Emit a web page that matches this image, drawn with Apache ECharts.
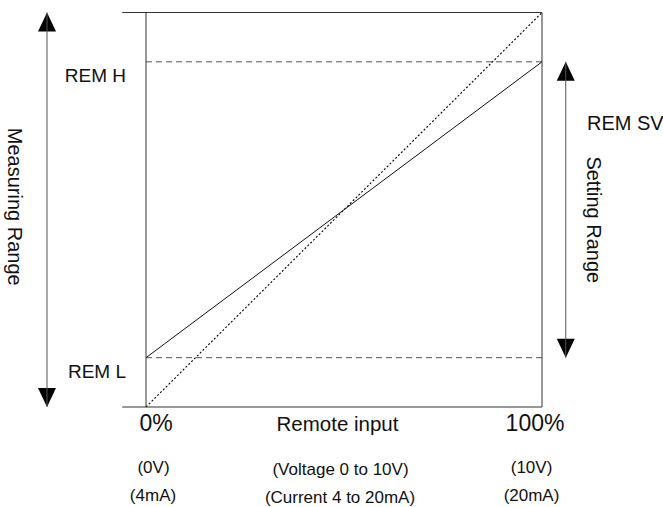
<!DOCTYPE html>
<html>
<head>
<meta charset="utf-8">
<script src="https://cdn.jsdelivr.net/npm/echarts@6/dist/echarts.min.js"></script>
<style>
    html, body { margin: 0; padding: 0; background: #fff; }
    #chart { width: 663px; height: 507px; }
</style>
</head>
<body>
<div id="chart"></div>
<script>
// remote input (%) on x, measuring range (%) on y
const inputTicks = [0, 100];
const inputTickLabels = ['0%', '100%'];
const voltageLabels = ['(0V)', '(10V)'];
const currentLabels = ['(4mA)', '(20mA)'];
const inputName = 'Remote input';
const voltageName = '(Voltage 0 to 10V)';
const currentName = '(Current 4 to 20mA)';

const measuringRange = [0, 100];
const remLevels = [12.5, 87.5];
const remLabels = ['REM L', 'REM H'];

// remote SV follows REM L..REM H, the dotted line is the full range
const remoteSv = [12.5, 87.5];
const fullScale = [0, 100];

// layout only
const FONT = 'Liberation Sans, Arial, sans-serif';
const W = 663;
const boxLeftPx = 146, boxRightPx = 542;
const pxPerUnit = (boxRightPx - boxLeftPx) / (inputTicks[1] - inputTicks[0]);
const xMin = inputTicks[0] - boxLeftPx / pxPerUnit;
const xMax = inputTicks[1] + (W - boxRightPx) / pxPerUnit;
const frameLeft = -6;
const measuringArrowX = -25;
const settingArrowX = 106;
const remSvLabelAt = 72;

const chart = echarts.init(document.getElementById('chart'), null, { renderer: 'svg' });

// label with a sideways nudge: first label to the right, last to the left
function shifted(list, firstDx, lastDx, size) {
    return {
        formatter: function (v) {
            const i = inputTicks.indexOf(v);
            return i === 0 ? '{f|' + list[0] + '}' : '{l|' + list[1] + '}';
        },
        rich: {
            f: { fontSize: size, fontFamily: FONT, color: '#111', padding: [0, 0, 0, firstDx * 2] },
            l: { fontSize: size, fontFamily: FONT, color: '#111', padding: [0, lastDx * 2, 0, 0] }
        }
    };
}

function xAxisRow(list, name, size, nameSize, gap, firstDx, lastDx, nameDx) {
    const lab = shifted(list, firstDx, lastDx, size);
    return {
        type: 'value',
        min: xMin,
        max: xMax,
        position: 'bottom',
        axisLine: { show: false },
        axisTick: { show: false },
        splitLine: { show: false },
        axisLabel: {
            customValues: inputTicks,
            margin: gap,
            fontSize: size,
            fontFamily: FONT,
            color: '#111',
            formatter: lab.formatter,
            rich: lab.rich
        },
        name: name,
        nameLocation: 'middle',
        nameGap: gap + 2,
        nameMoveOverlap: false,
        nameTextStyle: {
            fontSize: nameSize,
            fontFamily: FONT,
            color: '#111',
            padding: [0, 0, 0, nameDx * 2]
        }
    };
}

const seg = (a, b) => [a, b];

const option = {
    animation: false,
    grid: { left: 0, right: 0, top: 12.5, bottom: 100, outerBoundsMode: 'none' },
    xAxis: [
        xAxisRow(inputTickLabels, inputName, 23, 20.5, 4, 10, 7, 6),
        xAxisRow(voltageLabels, voltageName, 17, 17, 52, 7.5, 10.5, 9),
        xAxisRow(currentLabels, currentName, 17, 17, 80, 7, 10.5, 8.5)
    ],
    yAxis: [
        {
            type: 'value',
            min: measuringRange[0],
            max: measuringRange[1],
            offset: -boxLeftPx,
            axisLine: { show: false },
            axisTick: { show: false },
            splitLine: { show: false },
            axisLabel: {
                customValues: remLevels,
                formatter: v => remLabels[remLevels.indexOf(v)],
                margin: 20,
                fontSize: 19,
                fontFamily: FONT,
                color: '#111',
                verticalAlign: 'top',
                padding: [4, 0, 0, 0]
            },
            name: 'Measuring Range',
            nameLocation: 'middle',
            nameRotate: -90,
            nameGap: 121,
            nameMoveOverlap: false,
            nameTextStyle: { fontSize: 20, fontFamily: FONT, color: '#111', padding: [0, 6, 0, 0] }
        },
        {
            type: 'value',
            position: 'right',
            min: measuringRange[0],
            max: measuringRange[1],
            offset: -(W - boxRightPx),
            axisLine: { show: false },
            axisTick: { show: false },
            splitLine: { show: false },
            axisLabel: {
                customValues: [remSvLabelAt],
                formatter: () => 'REM SV',
                margin: 45,
                fontSize: 20,
                fontFamily: FONT,
                color: '#111'
            },
            name: 'Setting Range',
            nameLocation: 'middle',
            nameRotate: -90,
            nameGap: 42,
            nameMoveOverlap: false,
            nameTextStyle: { fontSize: 20, fontFamily: FONT, color: '#111', padding: [0, 0, 0, 20] }
        }
    ],
    series: [
        {
            // REM L / REM H levels
            type: 'line', silent: true, symbol: 'none',
            data: seg([fullScale[0], remLevels[0]], [fullScale[1], remLevels[0]]),
            lineStyle: { color: '#555', width: 1, type: [6, 4] }
        },
        {
            type: 'line', silent: true, symbol: 'none',
            data: seg([fullScale[0], remLevels[1]], [fullScale[1], remLevels[1]]),
            lineStyle: { color: '#555', width: 1, type: [6, 4] }
        },
        {
            // full range reference
            type: 'line', silent: true, symbol: 'none',
            data: seg([fullScale[0], fullScale[0]], [fullScale[1], fullScale[1]]),
            lineStyle: { color: '#000', width: 1.1, type: [2, 2] }
        },
        {
            // remote SV
            type: 'line', silent: true, symbol: 'none',
            data: seg([fullScale[0], remoteSv[0]], [fullScale[1], remoteSv[1]]),
            lineStyle: { color: '#111', width: 1 }
        },
        {
            // frame: top, right and bottom edges
            type: 'line', clip: false, silent: true, symbol: 'none',
            data: [
                [frameLeft, measuringRange[1]],
                [fullScale[1], measuringRange[1]],
                [fullScale[1], measuringRange[0]],
                [frameLeft, measuringRange[0]]
            ],
            lineStyle: { color: '#333', width: 1 }
        },
        {
            type: 'line', clip: false, silent: true, symbol: 'none',
            data: seg([fullScale[0], measuringRange[0]], [fullScale[0], measuringRange[1]]),
            lineStyle: { color: '#333', width: 1 }
        },
        {
            // arrow shafts
            type: 'line', clip: false, silent: true, symbol: 'none',
            data: seg([measuringArrowX, measuringRange[0]], [measuringArrowX, measuringRange[1]]),
            lineStyle: { color: '#555', width: 1 }
        },
        {
            type: 'line', clip: false, silent: true, symbol: 'none',
            data: seg([settingArrowX, remLevels[0]], [settingArrowX, remLevels[1]]),
            lineStyle: { color: '#555', width: 1 }
        },
        {
            // arrow heads
            type: 'scatter', clip: false, silent: true,
            symbol: 'triangle',
            symbolSize: [18, 19],
            itemStyle: { color: '#000', opacity: 1 },
            data: [
                { value: [measuringArrowX, measuringRange[1]], symbolOffset: [0, 9.5] },
                { value: [measuringArrowX, measuringRange[0]], symbolOffset: [0, -9.5], symbolRotate: 180 },
                { value: [settingArrowX, remLevels[1]], symbolOffset: [0, 9.5] },
                { value: [settingArrowX, remLevels[0]], symbolOffset: [0, -9.5], symbolRotate: 180 }
            ]
        }
    ]
};

chart.setOption(option);
window.addEventListener('resize', () => chart.resize());
</script>
</body>
</html>
